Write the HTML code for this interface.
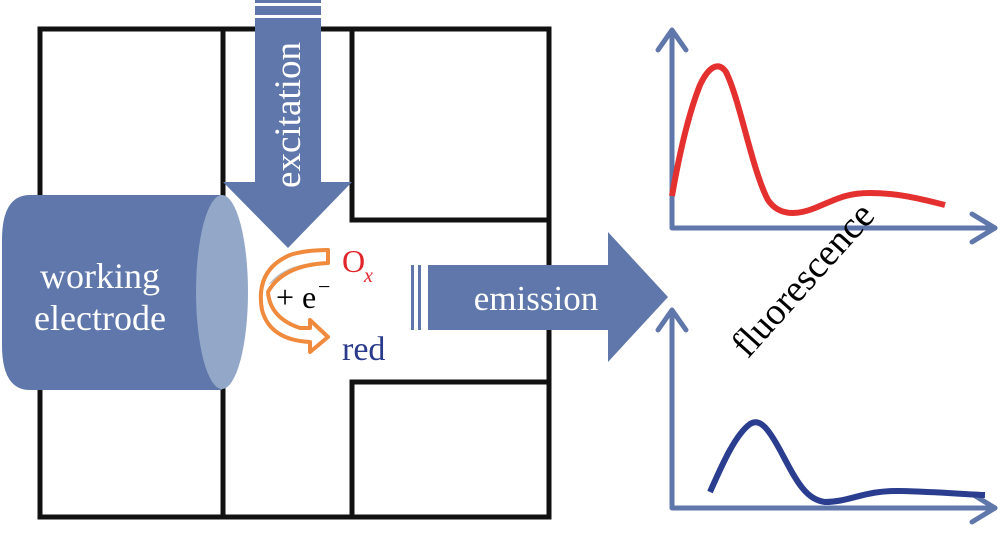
<!DOCTYPE html>
<html><head><meta charset="utf-8"><style>
html,body{margin:0;padding:0;background:#fff;}
svg{display:block;}
svg text{font-family:"Liberation Serif","DejaVu Serif","Times New Roman",serif !important;}
</style></head><body>
<svg width="1000" height="544" viewBox="0 0 1000 544" xmlns="http://www.w3.org/2000/svg" font-family="Liberation Serif, DejaVu Serif, serif">
<g stroke="#111" stroke-width="5" fill="none" stroke-linejoin="miter">
<rect x="40" y="29" width="509" height="488"/>
<line x1="223" y1="29" x2="223" y2="517"/>
<polyline points="352,29 352,220 549,220"/>
<polyline points="352,517 352,382 549,382"/>
</g>
<path d="M222,195 L30,195 Q2,195 2,240 L2,345 Q2,390 30,390 L222,390 Z" fill="#5f77aa"/>
<ellipse cx="222" cy="292" rx="26" ry="97" fill="#93a7c8"/>
<text x="100" y="288" font-size="36" fill="#fff" text-anchor="middle">working</text>
<text x="100" y="330" font-size="36" fill="#fff" text-anchor="middle">electrode</text>
<rect x="255" y="0" width="66" height="182" fill="#5f77aa"/>
<rect x="255" y="3" width="66" height="3" fill="#fff"/>
<rect x="255" y="15" width="66" height="3" fill="#fff"/>
<polygon points="223,182 352,182 288,248" fill="#5f77aa"/>
<text transform="translate(300,115) rotate(-90)" font-size="37" fill="#fff" text-anchor="middle">excitation</text>
<rect x="411" y="265" width="3" height="65" fill="#5f77aa"/>
<rect x="418" y="265" width="3" height="65" fill="#5f77aa"/>
<rect x="428" y="265" width="182" height="65" fill="#5f77aa"/>
<polygon points="608,232 668,297 608,362" fill="#5f77aa"/>
<text x="536" y="310" font-size="35" fill="#fff" text-anchor="middle">emission</text>
<path d="M328,250 L328,262 Q285,262 268,285 Q300,265 328,262 Z" fill="#c0c0c0"/>
<path d="M328,250 L328,263 Q283,265 268,292 Q270,318 300,328 L310,328 L310,320 L328,337 L310,352 L310,342 Q270,340 262,310 Q255,270 290,255 Q305,250 328,250 Z" fill="none" stroke="#f08a3c" stroke-width="4" stroke-linejoin="round"/>
<text x="342" y="272" font-size="32" fill="#e0262a">O</text>
<text x="364" y="282" font-size="20" fill="#e0262a" font-style="italic">x</text>
<text x="276" y="308" font-size="32" fill="#000">+ e</text>
<text x="318" y="294" font-size="22" fill="#000">−</text>
<text x="342" y="360" font-size="34" fill="#2a3a8a">red</text>
<g stroke="#5f77aa" stroke-width="5" fill="none" stroke-linecap="round" stroke-linejoin="round">
<polyline points="672,32 672,228 995,228"/>
<polyline points="658,50 672,30 686,50"/>
<polyline points="972,214 995,228 972,242"/>
<polyline points="672,312 672,508 995,508"/>
<polyline points="658,330 672,310 686,330"/>
<polyline points="972,494 995,508 972,522"/>
</g>
<path d="M672,196 C680,150 690,110 700,85 C708,68 718,60 726,72 C740,100 752,170 768,200 C778,215 795,216 815,208 C835,200 845,193 870,193 C900,193 925,200 945,205" fill="none" stroke="#e53030" stroke-width="6"/>
<path d="M710,492 C722,465 735,435 750,424 C760,418 768,428 780,450 C795,478 805,500 825,502 C850,502 865,490 900,491 C940,492 960,494 985,495" fill="none" stroke="#2a3d8f" stroke-width="6"/>
<text transform="translate(812,288) rotate(-48)" font-size="38" fill="#000" text-anchor="middle">fluorescence</text>
</svg>
</body></html>
